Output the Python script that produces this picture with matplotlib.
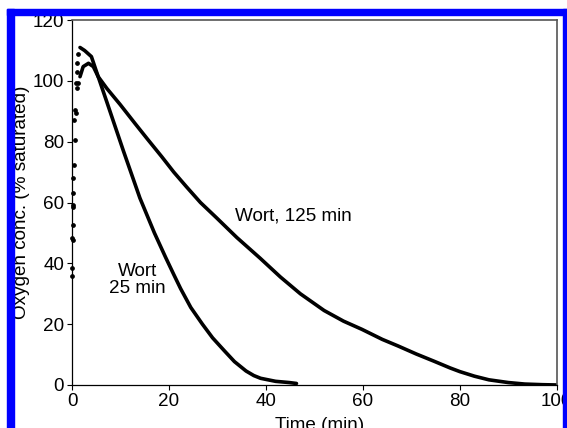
import matplotlib
matplotlib.use("Agg")
import matplotlib.pyplot as plt
from matplotlib.patches import Rectangle

plt.rcParams['font.family'] = ['Liberation Sans', 'DejaVu Sans']

# wort aerated 25 min (fast decay)
t_25 = [1.65, 2.3, 3.4, 4.4, 5.4, 7.2, 10.6, 14.0, 17.0, 19.3, 21.0, 22.4,
        24.5, 26.9, 29.0, 31.4, 33.5, 35.9, 37.5, 38.9, 42.0, 44.8, 46.3]
o2_25 = [101.4, 104.7, 105.8, 104.7, 101.4, 93.0, 77.0, 61.5, 50.0, 42.0,
         36.3, 31.7, 25.5, 20.0, 15.5, 11.3, 7.7, 4.6, 3.1, 2.2, 1.2, 0.8, 0.5]

# wort aerated 125 min (slow decay)
t_125 = [1.65, 2.6, 4.0, 5.4, 7.2, 9.9, 13.0, 15.5, 18.5, 21.0, 23.6, 26.5,
         29.8, 34.0, 38.8, 43.0, 47.1, 52.0, 56.0, 59.8, 64.0, 67.3, 71.0,
         74.7, 78.0, 80.0, 83.0, 86.0, 90.0, 93.4, 97.0, 100.0]
o2_125 = [111.0, 110.0, 108.0, 101.4, 97.5, 92.3, 86.0, 81.0, 75.1, 70.0,
          65.2, 60.0, 55.0, 48.5, 41.7, 35.5, 30.0, 24.5, 21.0, 18.3, 15.0,
          12.8, 10.2, 7.8, 5.6, 4.4, 2.9, 1.7, 0.8, 0.3, 0.1, 0.0]

# sparse points during the initial rise
t_rise_a = [0.05, 0.2, 0.2, 0.3, 0.45, 0.6, 0.8, 1.0, 1.1, 1.3]
o2_rise_a = [38.4, 52.6, 59.2, 63.0, 72.4, 80.6, 89.4, 97.6, 105.8, 109.0]
t_rise_b = [0.0, 0.1, 0.15, 0.25, 0.3, 0.4, 0.6, 0.9, 1.0, 1.3]
o2_rise_b = [35.8, 48.3, 47.7, 58.7, 68.0, 87.2, 90.5, 99.2, 103.0, 99.2]

fs = 13.6

fig = plt.figure(figsize=(5.67, 4.28), dpi=100)
ax = fig.add_axes([0.127, 0.1005, 0.855, 0.8525])

ax.plot(t_25, o2_25, color='black', lw=2.6, solid_capstyle='round',
        solid_joinstyle='round')
ax.plot(t_125, o2_125, color='black', lw=2.6, solid_capstyle='round',
        solid_joinstyle='round')
ax.plot(t_rise_a, o2_rise_a, 'o', color='black', ms=2.4, clip_on=False)
ax.plot(t_rise_b, o2_rise_b, 'o', color='black', ms=2.4, clip_on=False)

ax.text(13.5, 34.5, 'Wort\n25 min', ha='center', va='center', fontsize=fs,
        linespacing=0.95)
ax.text(33.6, 55.6, 'Wort, 125 min', ha='left', va='center', fontsize=fs)

ax.set_xlim(0, 100)
ax.set_ylim(0, 120)
ax.set_xticks(range(0, 101, 20))
ax.set_yticks(range(0, 121, 20))
ax.tick_params(direction='out', length=3.6, width=0.8, pad=2.0, labelsize=fs)

for s in ['left', 'bottom']:
    ax.spines[s].set_color('black')
    ax.spines[s].set_linewidth(0.9)
for s in ['top', 'right']:
    ax.spines[s].set_color('#555555')
    ax.spines[s].set_linewidth(1.2)

ax.set_xlabel('Time (min)', fontsize=fs)
ax.xaxis.set_label_coords(0.51, -0.087)
ax.set_ylabel('Oxygen conc. (% saturated)', fontsize=fs, va='center')
ax.yaxis.set_label_coords(-0.105, 0.5)

# blue frame around the figure
W, H = 567.0, 428.0
blue = (0, 0, 1)
fig.patches.append(Rectangle((7 / W, 0), 6.5 / W, (428 - 9) / H,
                             transform=fig.transFigure, color=blue, zorder=5))
fig.patches.append(Rectangle((7 / W, (428 - 15) / H), (567 - 7) / W, 6 / H,
                             transform=fig.transFigure, color=blue, zorder=5))
fig.patches.append(Rectangle((563 / W, 0), 4 / W, (428 - 9) / H,
                             transform=fig.transFigure, color=blue, zorder=5))

fig.savefig('out.png', dpi=100)
